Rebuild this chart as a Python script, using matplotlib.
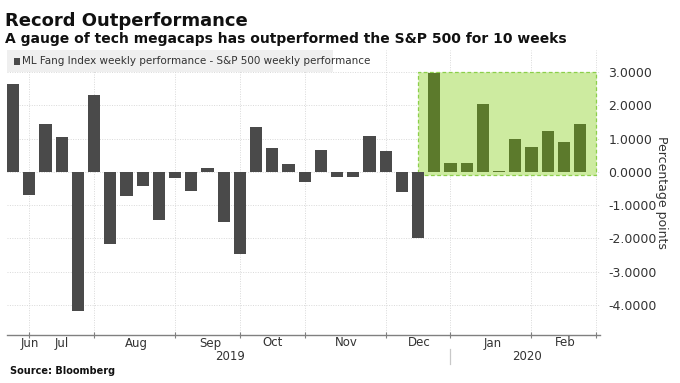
import matplotlib
matplotlib.use('Agg')
import matplotlib.pyplot as plt
from matplotlib.patches import Rectangle
from matplotlib.transforms import blended_transform_factory

# ---- data ----
values = [2.63, -0.71, 1.45, 1.05, -4.17, 2.30, -2.17, -0.73, -0.43, -1.44,
          -0.17, -0.58, 0.13, -1.52, -2.46, 1.35, 0.71, 0.23, -0.30, 0.65,
          -0.15, -0.15, 1.07, 0.64, -0.60, -2.00, 2.98, 0.26, 0.28, 2.05,
          0.02, 0.99, 0.75, 1.24, 0.89, 1.44]
highlight_start = 26  # first highlighted week (0-based)
month_labels = ['Jun', 'Jul', 'Aug', 'Sep', 'Oct', 'Nov', 'Dec', 'Jan', 'Feb']
month_label_pos = [1.05, 3.0, 7.6, 12.2, 16.0, 20.6, 25.05, 29.6, 34.1]
month_grid = [1, 5, 10, 14, 18, 23, 27, 32, 36]
year_labels = ['2019', '2020']
year_label_pos = [13.4, 31.7]
year_sep = 27
yticks = [3, 2, 1, 0, -1, -2, -3, -4]

W, H = 680, 383
fig = plt.figure(figsize=(W / 100, H / 100), dpi=100)
fig.patch.set_facecolor('white')

def fx(px):
    return px / W

def fy(py):
    return 1 - py / H

ax_l, ax_r, ax_t, ax_b = 7, 600, 50, 335
ax = fig.add_axes([fx(ax_l), fy(ax_b), fx(ax_r - ax_l), (ax_b - ax_t) / H])
ax.set_facecolor('white')

n = len(values)
xs = list(range(n))
gray = '#4a4a4a'
green = '#5c7a2c'

# highlight box
ax.add_patch(Rectangle((highlight_start - 1, -0.08), n - highlight_start + 1, 3.08,
                       facecolor='#cdeba0', edgecolor='#8ccf4a', linestyle=(0, (3, 2)),
                       linewidth=0.9, zorder=1))

colors = [green if i >= highlight_start else gray for i in xs]
ax.bar(xs, values, width=0.75, color=colors, zorder=3)

ax.set_xlim(-0.375, 36.23)
ax.set_ylim(-4.9, 3.66)

# grid
for g in month_grid:
    ax.axvline(g, color='#d9d9d9', linestyle=(0, (1, 1.5)), linewidth=0.7, zorder=0)
for t in yticks:
    ax.axhline(t, color='#d9d9d9', linestyle=(0, (1, 1.5)), linewidth=0.7, zorder=0)

for s in ['top', 'left', 'right']:
    ax.spines[s].set_visible(False)
ax.spines['bottom'].set_color('#808080')
ax.spines['bottom'].set_linewidth(1.0)

ax.set_xticks(month_grid)
ax.set_xticklabels([])
ax.tick_params(axis='x', direction='inout', length=4, color='#808080', width=0.8)

ax.yaxis.tick_right()
ax.set_yticks(yticks)
ax.set_yticklabels(['%.4f' % t for t in yticks], fontsize=9, color='#333333',
                   family='DejaVu Sans')
ax.tick_params(axis='y', length=0, pad=6)
ax.yaxis.set_label_position('right')
ax.set_ylabel('Percentage points', rotation=270, fontsize=9, color='#333333',
              labelpad=8, family='DejaVu Sans')

tr = blended_transform_factory(ax.transData, fig.transFigure)
for lab, p in zip(month_labels, month_label_pos):
    ax.text(p, fy(343), lab, transform=tr, ha='center', va='center', fontsize=8.5,
            color='#333333', family='DejaVu Sans Condensed', clip_on=False)
for lab, p in zip(year_labels, year_label_pos):
    ax.text(p, fy(357), lab, transform=tr, ha='center', va='center', fontsize=8.5,
            color='#333333', family='DejaVu Sans Condensed', clip_on=False)
ax.plot([year_sep, year_sep], [fy(349), fy(364)], transform=tr, color='#c8c8c8',
        linewidth=0.9, clip_on=False)

# legend box
fig.patches.append(Rectangle((fx(7), fy(72)), fx(333 - 7), (72 - 50) / H,
                             transform=fig.transFigure, facecolor='#efefef',
                             edgecolor='none', zorder=5))
fig.patches.append(Rectangle((fx(14), fy(64.5)), fx(5.5), 7 / H,
                             transform=fig.transFigure, facecolor=gray,
                             edgecolor='none', zorder=6))
fig.text(fx(22), fy(61), 'ML Fang Index weekly performance - S&P 500 weekly performance',
         ha='left', va='center', fontsize=7.5, color='#333333',
         family='DejaVu Sans Condensed', zorder=7)

# titles
fig.text(fx(5), fy(26), 'Record Outperformance', ha='left', va='baseline',
         fontsize=13, fontweight='bold', color='#111111', family='DejaVu Sans')
fig.text(fx(5), fy(43.5), 'A gauge of tech megacaps has outperformed the S&P 500 for 10 weeks',
         ha='left', va='baseline', fontsize=10, fontweight='bold', color='#111111',
         family='DejaVu Sans')
fig.text(fx(10), fy(374), 'Source: Bloomberg', ha='left', va='baseline',
         fontsize=7, fontweight='bold', color='#111111', family='DejaVu Sans')

fig.savefig('out.png', dpi=100, facecolor='white')
